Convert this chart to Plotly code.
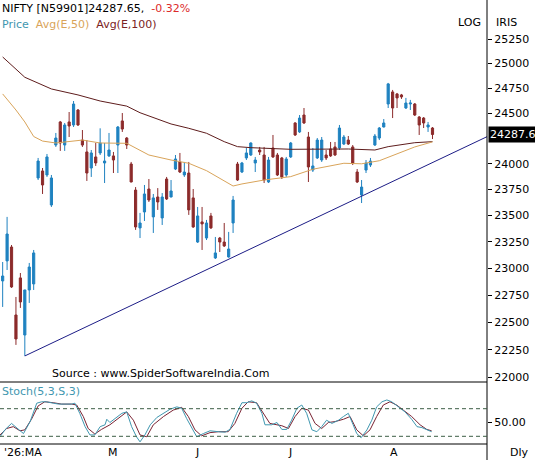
import math
import plotly.graph_objects as go

# ---------------- data ----------------
opens = [22883, 23070, 23201, 22568, 22911, 22385, 22799, 22855, 23862, 23930,
         23891, 23601, 24184, 24412, 24184, 24412, 24382, 24531, 24233, 24116,
         23959, 24067, 24106, 24008, 24077, 24077, 24184, 24422, 24253, 23998,
         23745, 23382, 23534, 23755, 23487, 23678, 23477, 23852, 23678, 23949,
         24018, 23891, 23910, 23669, 23248, 23439, 23286, 23496, 23098, 23286,
         23248, 23107, 23429, 23998, 23920, 24057, 24086, 24008, 24135, 24086,
         23823, 24155, 24086, 24057, 23891, 24067, 24402, 24313, 24481, 24263,
         23939, 24057, 24037, 24086, 24145, 24165, 24155, 24194, 24233, 24165,
         23920, 23697, 23939, 23988, 24184, 24253, 24362, 24591, 24712, 24692,
         24682, 24551, 24591, 24591, 24461, 24451, 24362, 24352]
highs = [23060, 23487, 23220, 22734, 22957, 22800, 23051, 23173, 24057, 23959,
         24096, 23891, 24303, 24422, 24402, 24511, 24621, 24541, 24332, 24233,
         24135, 24204, 24349, 24204, 24303, 24116, 24372, 24501, 24263, 24018,
         23774, 23525, 23794, 23852, 23707, 23764, 23716, 23872, 23842, 24086,
         24106, 24018, 24018, 23755, 23582, 23582, 23458, 23525, 23296, 23296,
         23429, 23344, 23688, 24018, 24018, 24155, 24210, 24067, 24165, 24165,
         24067, 24283, 24106, 24067, 24067, 24214, 24410, 24481, 24551, 24313,
         24155, 24253, 24263, 24135, 24214, 24214, 24382, 24283, 24273, 24184,
         23949, 23842, 24037, 24057, 24293, 24362, 24441, 24803, 24732, 24702,
         24692, 24652, 24632, 24601, 24471, 24461, 24412, 24362]
lows = [22642, 22985, 22818, 22295, 22633, 22195, 22679, 22799, 23842, 23707,
        23872, 23582, 24165, 24126, 24126, 24263, 24362, 24372, 24165, 23833,
        23872, 23979, 24086, 23813, 24067, 23910, 23910, 24313, 24145, 23820,
        23363, 23286, 23448, 23630, 23334, 23554, 23410, 23649, 23675, 23939,
        23910, 23872, 23506, 23382, 23239, 23173, 23267, 23372, 23088, 23154,
        23201, 23100, 23334, 23833, 23910, 24037, 24077, 23920, 24086, 23813,
        23813, 24057, 23881, 23852, 23872, 24057, 24273, 24303, 24392, 23823,
        23920, 24047, 24018, 24037, 24067, 24077, 24135, 24184, 24184, 23988,
        23813, 23620, 23910, 23969, 24175, 24233, 24358, 24551, 24451, 24551,
        24642, 24541, 24531, 24471, 24283, 24352, 24313, 24243]
closes = [22929, 23324, 22827, 22349, 22688, 22799, 23013, 23145, 24027, 23794,
          24067, 23862, 24253, 24204, 24382, 24372, 24591, 24382, 24184, 23910,
          24106, 24008, 24204, 24027, 24135, 24037, 24362, 24342, 24184, 23823,
          23391, 23429, 23707, 23649, 23669, 23630, 23678, 23659, 23736, 24047,
          23920, 23920, 23554, 23391, 23496, 23420, 23429, 23382, 23145, 23248,
          23211, 23182, 23649, 23842, 24008, 24106, 24204, 24037, 24116, 23842,
          24037, 24067, 23891, 23872, 24047, 24204, 24283, 24451, 24402, 23969,
          23979, 24233, 24233, 24057, 24077, 24086, 24352, 24263, 24194, 24008,
          23823, 23774, 24008, 24027, 24273, 24352, 24402, 24793, 24551, 24652,
          24662, 24601, 24601, 24481, 24382, 24402, 24382, 24287.65]
candle_idx = list(range(len(closes)))

ema100_idx = [0, 5, 11, 17, 22, 28, 31, 38, 42, 46, 50, 53, 56, 65, 78, 84, 87, 93, 97]
ema100_val = [25066, 24860, 24742, 24682, 24621, 24570, 24504, 24392, 24349, 24300,
              24217, 24168, 24158, 24142, 24145, 24135, 24168, 24207, 24217]

ema50_idx = [0, 3, 5, 7, 9, 12, 18, 22, 28, 31, 33, 38, 42, 46, 49, 52, 54, 59, 65,
             70, 77, 81, 85, 89, 93, 97]
ema50_val = [24692, 24531, 24412, 24268, 24223, 24204, 24233, 24204, 24201, 24135,
             24086, 24037, 24005, 23933, 23859, 23784, 23804, 23842, 23875, 23947,
             24005, 24000, 24030, 24095, 24165, 24215]

trend_idx = [5, 109.3]
trend_val = [22195, 24266]

stk_idx = [-0.6, 0.5, 2.0, 3.5, 4.7, 6.2, 7.7, 8.8, 9.9, 11.4, 12.6, 14.1, 15.6, 16.3,
           17.4, 18.6, 19.7, 20.8, 22.0, 23.1, 23.5, 24.2, 25.4, 26.9, 28.0, 29.1,
           30.2, 31.0, 32.1, 33.3, 34.8, 36.3, 37.8, 39.3, 40.4, 41.5, 42.7, 43.8,
           45.3, 46.8, 48.7, 50.2, 51.3, 52.8, 54.0, 55.1, 56.2, 57.3, 58.5, 59.2,
           60.7, 61.9, 63.0, 64.1, 65.2, 66.4, 67.5, 68.6, 69.8, 70.9, 72.0, 73.1,
           74.3, 75.8, 76.9, 78.0, 79.1, 79.9, 80.9, 82.2, 83.3, 84.4, 85.6, 86.7,
           87.8, 89.3, 90.8, 92.3, 93.5, 94.6, 95.7, 96.8]
stk_k = [19, 34, 48, 35, 26, 52, 92, 95, 95, 92, 90, 90, 90, 92,
         70, 41, 23, 23, 41, 45, 57, 50, 59, 70, 73, 41,
         19, 8, 23, 45, 61, 70, 79, 84, 81, 59, 37, 19,
         26, 32, 30, 29, 35, 70, 93, 93, 97, 92, 70, 45,
         45, 50, 35, 35, 55, 81, 88, 70, 34, 30, 41, 55,
         48, 55, 63, 70, 45, 26, 17, 34, 55, 84, 95, 99,
         95, 84, 73, 57, 41, 39, 35, 30]

std_idx = [-0.6, 0.9, 2.4, 3.9, 5.0, 6.5, 8.0, 9.5, 11.4, 13.3, 15.6, 16.7, 18.2,
           19.3, 20.8, 22.3, 24.2, 26.1, 28.0, 29.5, 31.0, 32.5, 34.0, 36.3, 38.5,
           40.4, 41.9, 43.4, 44.9, 46.8, 48.7, 50.9, 52.4, 54.0, 55.4, 57.3, 58.8,
           60.3, 61.9, 63.0, 64.5, 66.0, 67.5, 69.0, 70.5, 72.0, 73.5, 75.0, 76.9,
           78.4, 79.9, 81.4, 82.9, 84.4, 85.9, 87.4, 88.9, 90.4, 92.3, 94.2, 95.7, 96.8]
std_d = [23, 37, 41, 32, 34, 57, 86, 95, 93, 90, 90, 88, 63,
         37, 25, 35, 45, 59, 73, 55, 23, 19, 45, 63, 77,
         83, 63, 34, 21, 28, 30, 30, 48, 81, 95, 93, 70,
         48, 45, 43, 37, 63, 81, 77, 48, 37, 50, 52, 57,
         63, 34, 21, 34, 63, 88, 95, 88, 77, 63, 45, 35, 32]

month_idx = [-0.2, 24.9, 43.9, 64.9, 88.4]
month_lbl = ["'26:MA", "M", "J", "J", "A"]

price_ticks = [22000, 22250, 22500, 22750, 23000, 23250, 23500, 23750,
               24000, 24500, 24750, 25000, 25250]
last_price = 24287.65
last_label = "24287.6"

# ---------------- styling ----------------
FONT = "DejaVu Sans"
FS = 11
BLUE = "#1f82c0"
RED = "#8c2b2b"
ORANGE = "#d9a45a"
MAROON = "#5e1c1c"
TEAL = "#3f97b0"
DMAROON = "#7a2333"

W, H = 535, 460
ML, MR, MT, MB = 0, 48, 0, 16
ph = H - MT - MB
split = 62 / ph  # stoch panel height fraction

fig = go.Figure()

fig.add_trace(go.Candlestick(
    x=candle_idx, open=opens, high=highs, low=lows, close=closes,
    increasing=dict(line=dict(color=BLUE, width=1), fillcolor=BLUE),
    decreasing=dict(line=dict(color=RED, width=1), fillcolor=RED),
    whiskerwidth=0, hoverinfo="skip", showlegend=False,
    xaxis="x", yaxis="y"))

fig.add_trace(go.Scatter(x=ema100_idx, y=ema100_val, mode="lines",
                         line=dict(color=MAROON, width=1), showlegend=False,
                         hoverinfo="skip", xaxis="x", yaxis="y"))
fig.add_trace(go.Scatter(x=ema50_idx, y=ema50_val, mode="lines",
                         line=dict(color=ORANGE, width=1), showlegend=False,
                         hoverinfo="skip", xaxis="x", yaxis="y"))
fig.add_trace(go.Scatter(x=trend_idx, y=trend_val, mode="lines",
                         line=dict(color="#1c1c86", width=1), showlegend=False,
                         hoverinfo="skip", xaxis="x", yaxis="y", cliponaxis=False))

fig.add_trace(go.Scatter(x=std_idx, y=std_d, mode="lines",
                         line=dict(color=DMAROON, width=1), showlegend=False,
                         hoverinfo="skip", xaxis="x2", yaxis="y2"))
fig.add_trace(go.Scatter(x=stk_idx, y=stk_k, mode="lines",
                         line=dict(color=TEAL, width=1), showlegend=False,
                         hoverinfo="skip", xaxis="x2", yaxis="y2"))

xr = [-0.6, 109.3]
lo, hi = 21961, 25654

fig.update_layout(
    width=W, height=H,
    margin=dict(l=ML, r=MR, t=MT, b=MB, pad=0),
    paper_bgcolor="white", plot_bgcolor="white",
    font=dict(family=FONT, size=FS, color="black"),
    showlegend=False,
    xaxis=dict(domain=[0, 1], range=xr, anchor="y", showticklabels=False,
               showgrid=False, zeroline=False, showline=False, ticks="",
               rangeslider=dict(visible=False), fixedrange=True),
    xaxis2=dict(domain=[0, 1], range=xr, anchor="y2", matches="x",
                showgrid=False, zeroline=False, showline=False,
                showticklabels=False, ticks=""),
    yaxis=dict(domain=[split, 1], type="log",
               range=[math.log10(lo), math.log10(hi)],
               side="right", anchor="x", showgrid=False, zeroline=False,
               showline=False, tickmode="array", tickvals=price_ticks,
               ticktext=[str(v) for v in price_ticks],
               ticks="outside", ticklen=4, tickcolor="black",
               tickfont=dict(family=FONT, size=FS, color="black")),
    yaxis2=dict(domain=[0, split], range=[3.3, 138], side="right", anchor="x2",
                showgrid=False, zeroline=False, showline=False,
                tickmode="array", tickvals=[50], ticktext=["50.00"],
                ticks="outside", ticklen=4, tickcolor="black",
                tickfont=dict(family=FONT, size=FS, color="black")),
)

shapes = []
# right vertical axis line (full height)
shapes.append(dict(type="line", xref="paper", yref="paper", x0=1, x1=1,
                   y0=-MB / ph, y1=1, line=dict(color="black", width=1)))
# stoch panel borders
for yy in (0, split):
    shapes.append(dict(type="line", xref="paper", yref="paper", x0=0, x1=1,
                       y0=yy, y1=yy, line=dict(color="black", width=1)))
# stoch 80 / 20 dashed levels
for lvl in (80, 20):
    shapes.append(dict(type="line", xref="paper", yref="y2", x0=0, x1=1,
                       y0=lvl, y1=lvl,
                       line=dict(color="#3d5e45", width=1, dash="4px,3px")))
fig.update_layout(shapes=shapes)

def px_y(py):
    return (ph - py) / ph

def px_x(px):
    return px / (W - ML - MR)

ann = []
ann.append(dict(xref="paper", yref="paper", x=0, y=px_y(8), xanchor="left",
                yanchor="middle", showarrow=False,
                text='NIFTY [N59901]24287.65, <span style="color:#dc2a2a"> -0.32%</span>'))
ann.append(dict(xref="paper", yref="paper", x=0, y=px_y(24), xanchor="left",
                yanchor="middle", showarrow=False,
                text=f'<span style="color:{TEAL}">Price</span>  '
                     f'<span style="color:{ORANGE}">Avg(E,50)</span>  '
                     f'<span style="color:#7b2323">Avg(E,100)</span>'))
ann.append(dict(xref="paper", yref="paper", x=px_x(483), y=px_y(22),
                xanchor="right", yanchor="middle", showarrow=False, text="LOG"))
ann.append(dict(xref="paper", yref="paper", x=px_x(494), y=px_y(22),
                xanchor="left", yanchor="middle", showarrow=False, text="IRIS"))
ann.append(dict(xref="paper", yref="paper", x=px_x(50), y=px_y(373),
                xanchor="left", yanchor="middle", showarrow=False,
                text="Source : www.SpiderSoftwareIndia.Com"))
ann.append(dict(xref="paper", yref="paper", x=0, y=px_y(391),
                xanchor="left", yanchor="middle", showarrow=False,
                text=f'<span style="color:{TEAL}">Stoch(5,3,S,3)</span>'))
ann.append(dict(xref="paper", yref="paper", x=px_x(531), y=px_y(453),
                xanchor="right", yanchor="middle", showarrow=False, text="Dly"))
ann.append(dict(xref="paper", yref="y", x=px_x(488), y=math.log10(last_price),
                xanchor="left", yanchor="middle", showarrow=False,
                text=last_label, bgcolor="black", borderpad=1,
                font=dict(family=FONT, size=FS, color="white")))
# month labels under the stochastic panel
for i, (mx, ml) in enumerate(zip(month_idx, month_lbl)):
    ann.append(dict(xref="x2", yref="paper", x=mx, y=px_y(453),
                    xanchor="left" if i == 0 else "center", yanchor="middle",
                    showarrow=False, text=ml))
fig.update_layout(annotations=ann)

fig.write_html("out.html",
               config={"displayModeBar": False, "staticPlot": True},
               post_script="document.body.style.margin='0';"
                           "document.body.style.padding='0';")
